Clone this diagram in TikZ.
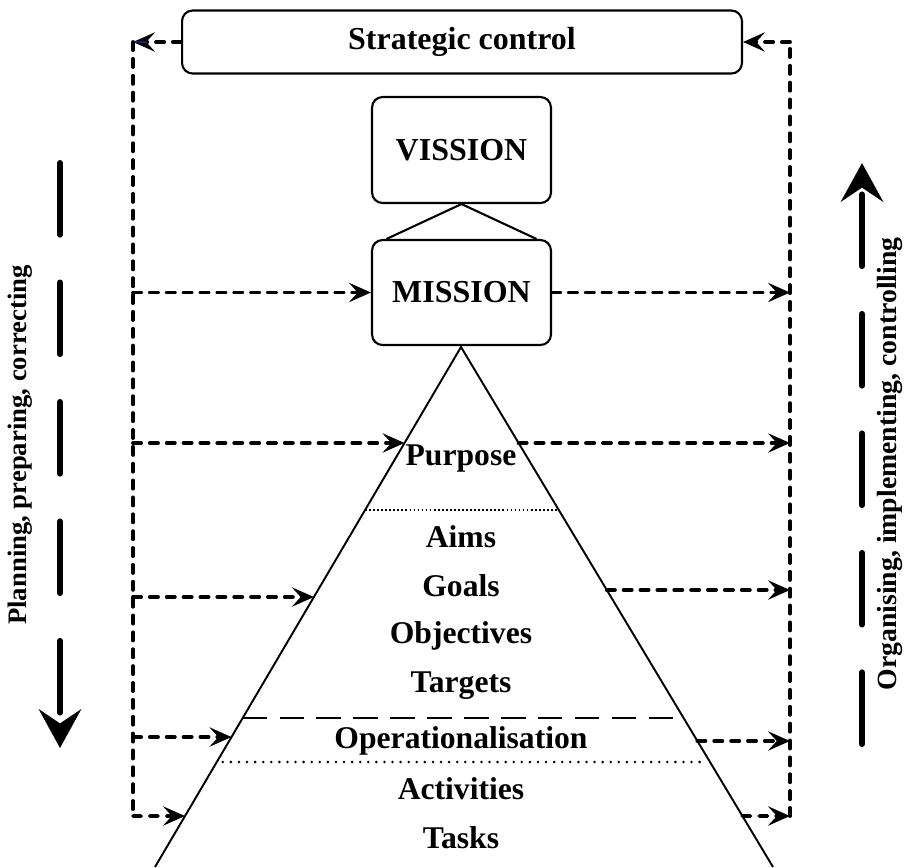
\documentclass[tikz,border=0pt]{standalone}
\usepackage{fontspec}
\setmainfont{Liberation Serif}
\usetikzlibrary{positioning,calc,arrows.meta}
\definecolor{navyline}{RGB}{25,25,110}
\tikzset{
  box/.style={draw,line width=1.2pt,rounded corners=6pt,font=\fontsize{18.2}{20}\selectfont\bfseries},
  lvl/.style={font=\fontsize{18}{20}\selectfont\bfseries,inner sep=1pt},
  rail/.style={line width=2.2pt,line cap=round,dash pattern=on 4.6pt off 5pt},
  link/.style={rail,-{Stealth[length=12.5pt,width=11pt,inset=5pt]}},
  flow/.style={line width=3.4pt,line cap=round,dash pattern=on 40.8pt off 27.2pt,-{Stealth[length=22pt,width=24pt,inset=8pt]}},
  side/.style={font=\fontsize{15.2}{17}\selectfont\bfseries,rotate=90}
}

\begin{document}
\begin{tikzpicture}[x=0.02cm,y=-0.02cm]
\useasboundingbox (0,0) rectangle (906,867);

% boxes at the top
\node[box,minimum width=11.2cm,minimum height=1.26cm] (sc) at (462,42) {Strategic control};
\node[box,minimum width=3.58cm,minimum height=2.12cm] (vis) at (461.5,150) {VISSION};
\node[box,minimum width=3.58cm,minimum height=2.1cm] (mis) at (461.5,292.5) {MISSION};
\draw[line width=1.2pt] ($(mis.north)+(-75,0)$) -- (vis.south) -- ($(mis.north)+(75,0)$);

% pyramid
\coordinate (apex) at (461,347);
\coordinate (bl) at (155,867);
\coordinate (br) at (773,867);
\draw[line width=1.1pt] (bl) -- (apex) -- (br);

\node[lvl] (purp) at (461,458) {Purpose};
\node[lvl] (aims) at (461,537) {Aims};
\node[lvl] (goals) at (461,586) {Goals};
\node[lvl] (obj) at (461,636) {Objectives};
\node[lvl] (targ) at (461,686) {Targets};
\node[lvl] (oper) at (461,741) {Operationalisation};
\node[lvl] (act) at (461,789) {Activities};
\node[lvl] (task) at (461,838) {Tasks};

% dividers
\draw[line width=0.7pt,dash pattern=on 1pt off 1.3pt]
  ($(apex)!{(510-347)/520}!(bl)$) -- ($(apex)!{(510-347)/520}!(br)$);
\draw[line width=1pt,dash pattern=on 14pt off 7pt]
  ($(apex)!{(718-347)/520}!(bl)$) -- ($(apex)!{(718-347)/520}!(br)$);
\draw[line width=1.6pt,line cap=round,dash pattern=on 0pt off 4.6pt]
  ($(apex)!{(762-347)/520}!(bl)+(6,0)$) -- ($(apex)!{(762-347)/520}!(br)+(-8,0)$);

% points on the sides of the pyramid
\coordinate (l1) at ($(apex)!{(443-347)/520}!(bl)$);
\coordinate (r1) at ($(apex)!{(443-347)/520}!(br)$);
\coordinate (l2) at ($(apex)!{(597-347)/520}!(bl)$);
\coordinate (r2) at ($(apex)!{(590-347)/520}!(br)$);
\coordinate (l3) at ($(apex)!{(737-347)/520}!(bl)$);
\coordinate (r3) at ($(apex)!{(741-347)/520}!(br)$);
\coordinate (l4) at ($(apex)!{(816-347)/520}!(bl)$);
\coordinate (r4) at ($(apex)!{(816-347)/520}!(br)$);

% control loop
\coordinate (lt) at (133,42);
\coordinate (lb) at (133,816);
\coordinate (rt) at (790,42);
\coordinate (rb) at (790,816);
\draw[link] (sc.west) -- (lt);
\draw[navyline,line width=0.6pt] (lt) -- ++(14,0);
\draw[rail] (lt) -- (lb);
\draw[rail] (rb) -- (rt);
\draw[link] (rt) -- (sc.east);

\draw[link] (lt |- mis) -- (mis.west);
\draw[link] (mis.east) -- (rt |- mis);
\draw[link] (lt |- l1) -- (l1);
\draw[link] (r1) -- (rt |- r1);
\draw[link] (lt |- l2) -- (l2);
\draw[link] (r2) -- (rt |- r2);
\draw[link] (lt |- l3) -- (l3);
\draw[link] (r3) -- (rt |- r3);
\draw[link] (lb) -- (l4);
\draw[link] (r4) -- (rb);

% side arrows
\coordinate (pa) at (60,163);
\coordinate (pb) at (60,748);
\draw[flow] (pa) -- (pb);
\node[side] (plan) at (20,445) {Planning, preparing, correcting};
\coordinate (oa) at (862,744);
\coordinate (ob) at (862,163);
\draw[flow] (oa) -- (ob);
\node[side,font=\fontsize{15.8}{17}\selectfont\bfseries] (org) at (890,464) {Organising, implementing, controlling};
\end{tikzpicture}
\end{document}
